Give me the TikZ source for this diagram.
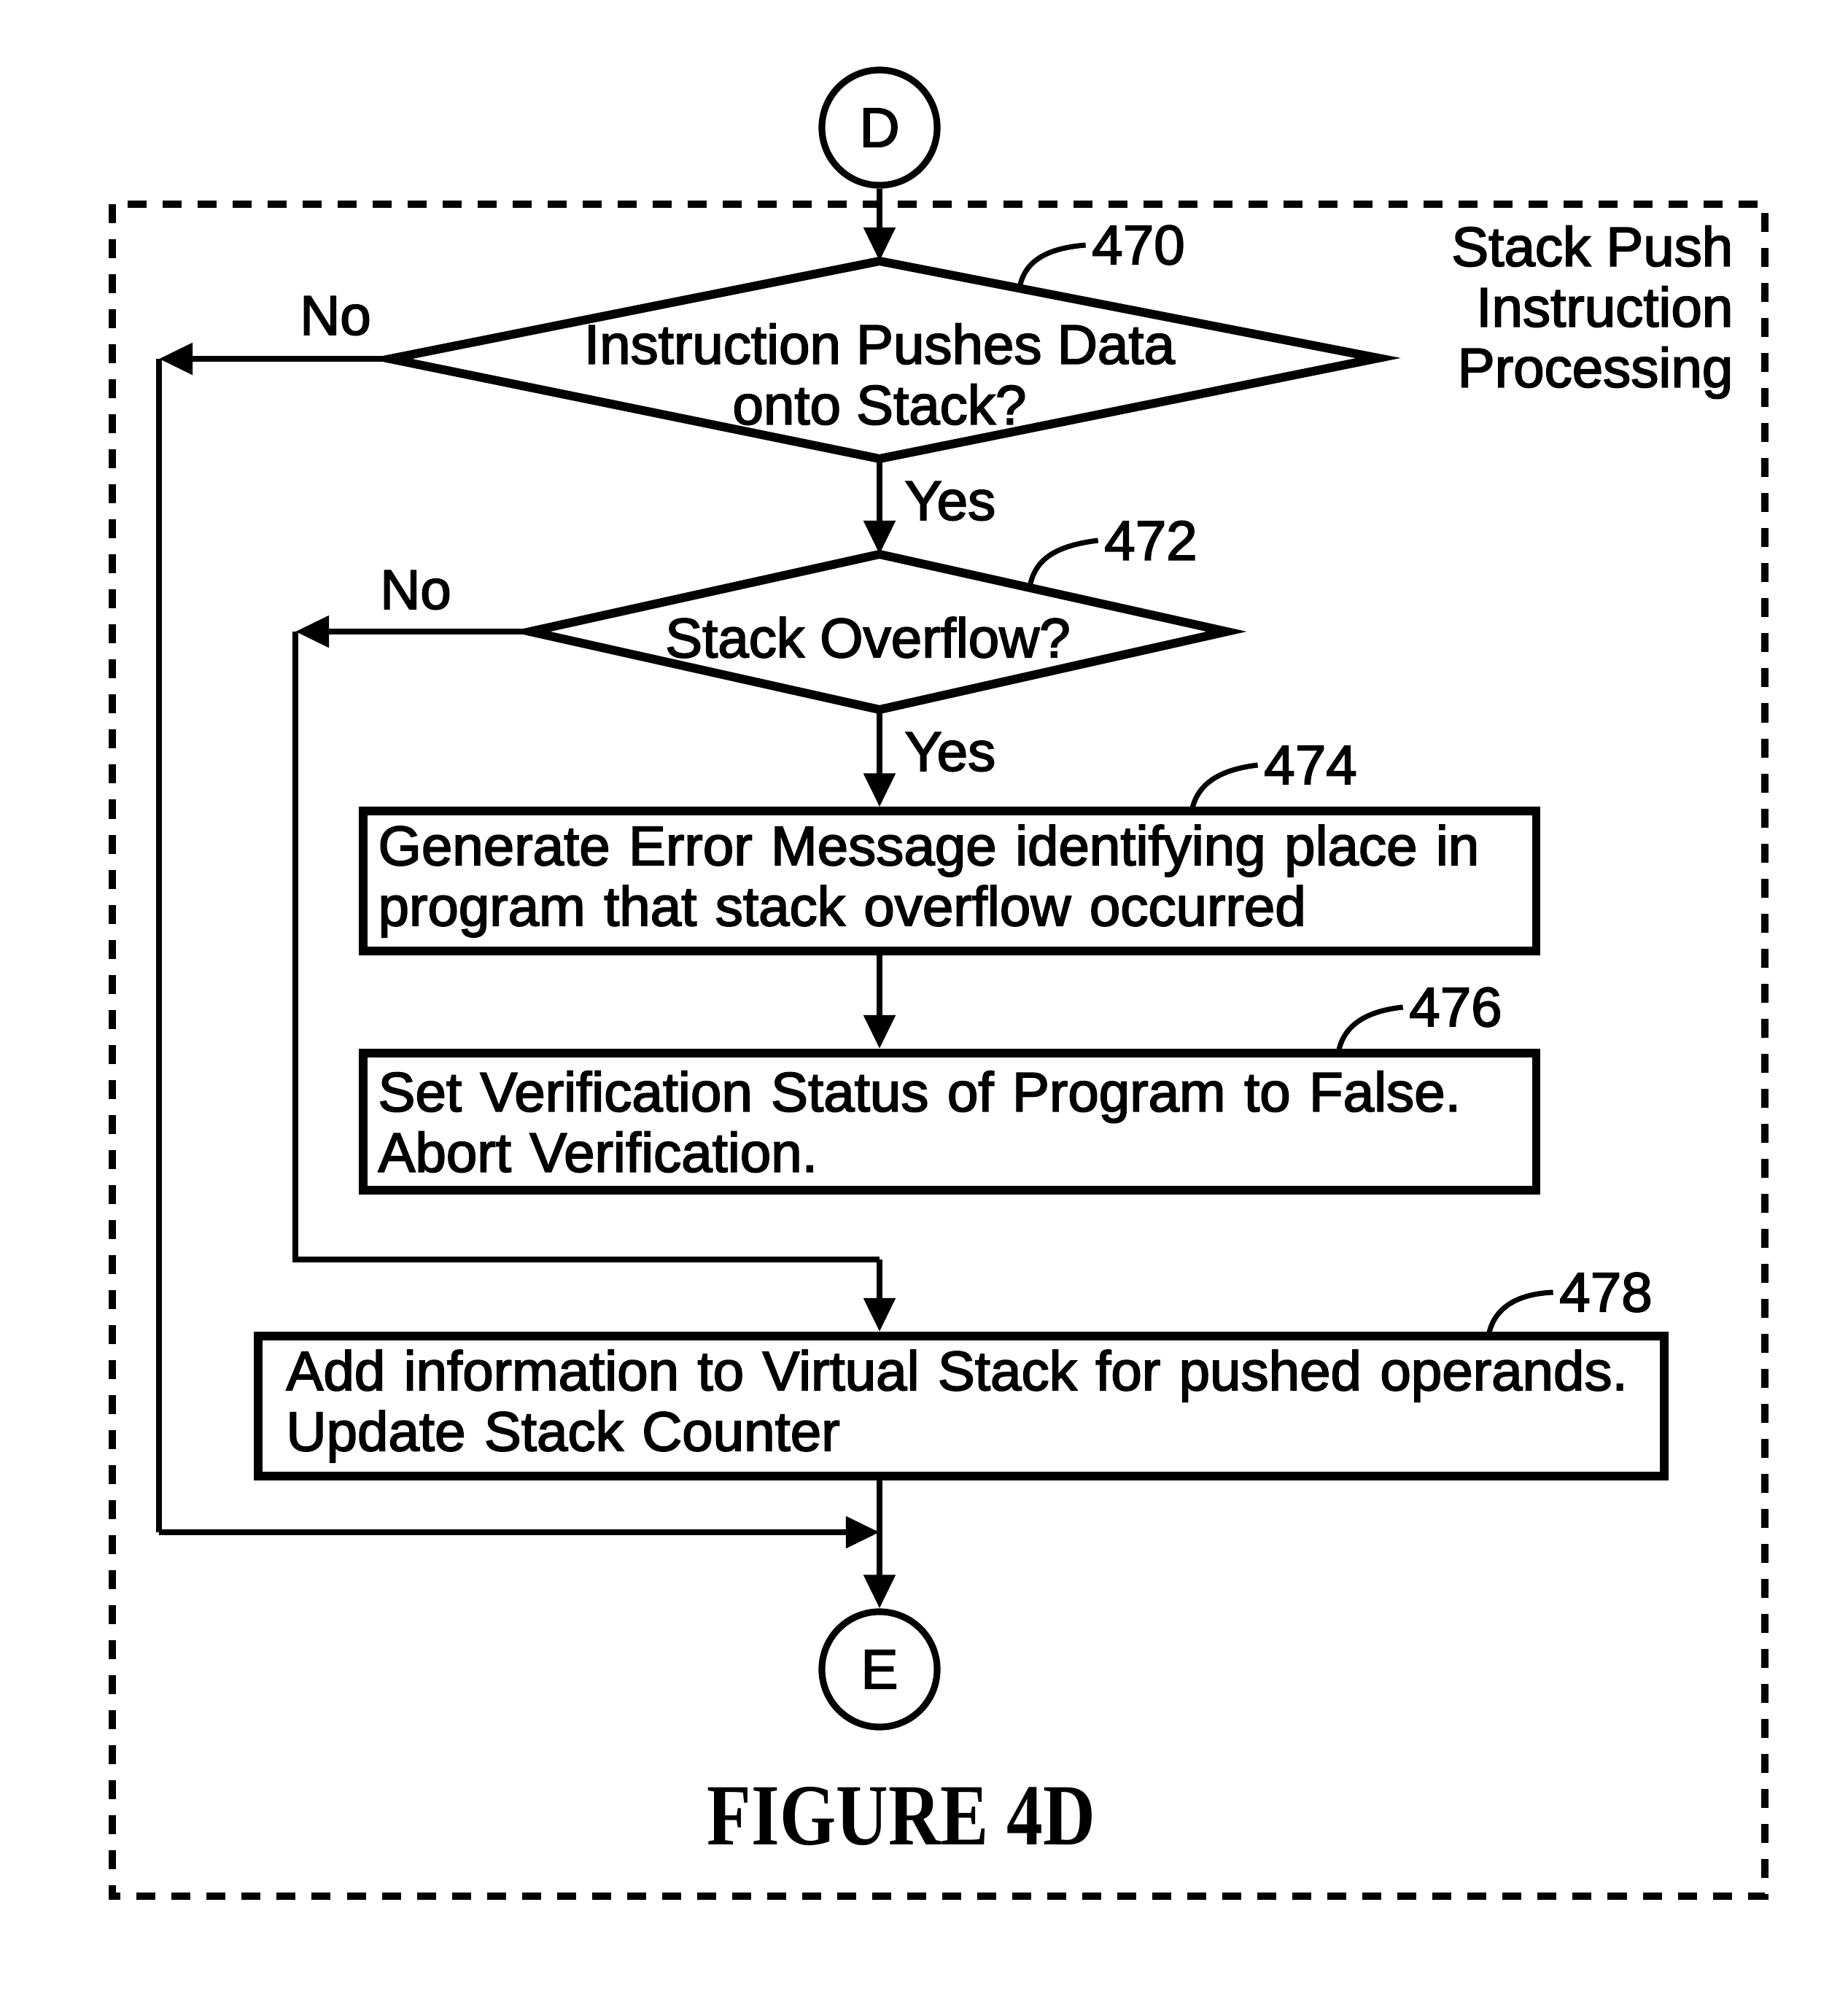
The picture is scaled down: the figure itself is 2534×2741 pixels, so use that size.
\documentclass[tikz,border=0pt]{standalone}
\usepackage{fontspec}
\newfontfamily\hv{Liberation Sans}[FakeBold=2.4]
\newfontfamily\tms{Liberation Serif}
\usetikzlibrary{arrows.meta}
\begin{document}
\begin{tikzpicture}[x=0.01cm,y=-0.01cm,
  every node/.style={font=\hv\fontsize{21.7}{23.6}\selectfont, inner sep=0pt},
  flow/.style={line width=2.4pt},
  arr/.style={flow,-{Triangle[length=0.46cm,width=0.42cm]}},
  shapeline/.style={line width=3.4pt, line join=miter},
  boxnode/.style={draw, line width=3.4pt, rectangle, align=left, inner ysep=0pt},
  conn/.style={circle, draw, line width=2.6pt, minimum size=1.58cm},
  leader/.style={line width=2pt},
  frame/.style={line width=2.8pt, dash pattern=on 0.26cm off 0.22cm}]
\useasboundingbox (0,0) rectangle (2534,2741);

% dashed frame
\draw[frame] (154,280) rectangle (2420,2600);

% connectors D and E
\node[conn] (D) at (1206,175) {D};
\node[conn] (E) at (1206,2289) {E};

% diamond 470
\coordinate (T1) at (1206,358);
\coordinate (R1) at (1890,491);
\coordinate (B1) at (1206,629);
\coordinate (L1) at (535,492);
\draw[shapeline] (T1) -- (R1) -- (B1) -- (L1) -- cycle;
\node[align=center] (q1) at (1206,513) {Instruction Pushes Data\\onto Stack?};

% diamond 472
\coordinate (T2) at (1206,760);
\coordinate (R2) at (1682,866);
\coordinate (B2) at (1206,973);
\coordinate (L2) at (727,866);
\draw[shapeline] (T2) -- (R2) -- (B2) -- (L2) -- cycle;
\node (q2) at (1190,874) {Stack Overflow?};

% boxes
\node[boxnode, inner xsep=0.21cm, text width=15.66cm, minimum height=1.91cm] (b474) at (1302,1208)
  {\mbox{Generate Error Message identifying place in}\\\mbox{program that stack overflow occurred}};
\node[boxnode, inner xsep=0.21cm, text width=15.66cm, minimum height=1.88cm] (b476) at (1302,1538)
  {\mbox{Set Verification Status of Program to False.}\\\mbox{Abort Verification.}};
\node[boxnode, inner xsep=0.38cm, text width=18.5cm, minimum height=1.92cm] (b478) at (1318,1928)
  {\mbox{Add information to Virtual Stack for pushed operands.}\\\mbox{Update Stack Counter}};

% side title
\node[anchor=east, align=right] (title) at (2377,428) {Stack Push\\Instruction\\Processing};

% labels
\node (no1) at (460,433) {No};
\node (no2) at (570,809) {No};
\node[anchor=west] (yes1) at (1240,687) {Yes};
\node[anchor=west] (yes2) at (1240,1031) {Yes};

% reference numbers
\node (n470) at (1561,336) {470};
\node (n472) at (1578,741) {472};
\node (n474) at (1797,1049) {474};
\node (n476) at (1996,1381) {476};
\node (n478) at (2202,1772) {478};

% leaders
\draw[leader] (1398,395) .. controls (1405,355) and (1440,340) .. ([xshift=-0.08cm]n470.west);
\draw[leader] (1412,805) .. controls (1419,765) and (1450,748) .. ([xshift=-0.08cm]n472.west);
\draw[leader] (1634,1113) .. controls (1641,1073) and (1675,1055) .. ([xshift=-0.08cm]n474.west);
\draw[leader] (1835,1444) .. controls (1842,1404) and (1876,1386) .. ([xshift=-0.08cm]n476.west);
\draw[leader] (2041,1832) .. controls (2048,1792) and (2082,1774) .. ([xshift=-0.08cm]n478.west);

% flow
\coordinate (c1) at (218,492);
\coordinate (c2) at (218,2101);
\coordinate (c3) at (1206,2101);
\coordinate (d1) at (405,866);
\coordinate (d2) at (405,1727);
\coordinate (d3) at (1206,1727);

\draw[arr] (D) -- (T1);
\draw[arr] (L1) -- (c1);
\draw[flow] (c1) -- (c2);
\draw[arr] (c2) -- (c3);
\draw[arr] (B1) -- (T2);
\draw[arr] (L2) -- (d1);
\draw[flow] (d1) -- (d2) -- (d3);
\draw[arr] (d3) -- (d3 |- b478.north);
\draw[arr] (B2) -- (B2 |- b474.north);
\draw[arr] (B2 |- b474.south) -- (B2 |- b476.north);
\draw[arr] (B2 |- b478.south) -- (E);

% caption
\node (fig) at (1236,2490) {\scalebox{0.83}[1]{\tms\bfseries\fontsize{34}{40}\selectfont FIGURE 4D}};
\end{tikzpicture}
\end{document}
